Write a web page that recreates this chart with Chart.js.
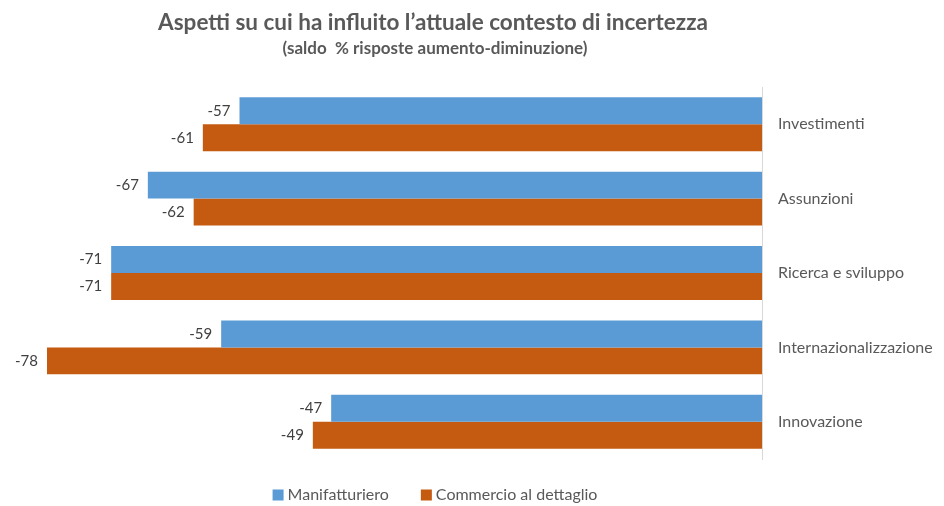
<!DOCTYPE html>
<html>
<head>
<meta charset="utf-8">
<script src="https://cdn.jsdelivr.net/npm/chart.js@4"></script>
<style>
  body { margin: 0; background: #fff; }
  canvas { display: block; }
</style>
</head>
<body>
<canvas id="myChart" width="944" height="506"></canvas>
<script>
const categories = ['Investimenti', 'Assunzioni', 'Ricerca e sviluppo', 'Internazionalizzazione', 'Innovazione'];
const manifatturiero = [-57, -67, -71, -59, -47];
const commercio = [-61, -62, -71, -78, -49];
const seriesNames = ['Manifatturiero', 'Commercio al dettaglio'];
const titleText = 'Aspetti su cui ha influito l\u2019attuale contesto di incertezza';
const subtitleText = '(saldo  % risposte aumento-diminuzione)';

// value labels at the end of each bar
const barLabels = {
  id: 'barLabels',
  afterDatasetsDraw(chart) {
    const ctx = chart.ctx;
    ctx.save();
    ctx.font = '15px Lato';
    ctx.fillStyle = '#404040';
    ctx.textAlign = 'right';
    ctx.textBaseline = 'middle';
    chart.data.datasets.forEach((ds, i) => {
      chart.getDatasetMeta(i).data.forEach((bar, j) => {
        ctx.fillText(ds.data[j], bar.x - 9, bar.y);
      });
    });
    ctx.restore();
  }
};

// title + legend, centred a bit left of the canvas centre like the original
const headerLegend = {
  id: 'headerLegend',
  afterDraw(chart) {
    const ctx = chart.ctx;
    const cx = 433;
    ctx.save();
    ctx.fillStyle = '#595959';
    ctx.textAlign = 'center';
    ctx.textBaseline = 'alphabetic';
    ctx.font = 'bold 22.5px Lato';
    ctx.fillText(titleText, cx, 30);
    ctx.font = 'bold 17px Lato';
    ctx.fillText(subtitleText, cx + 2, 54);

    // legend
    ctx.font = '16px Lato';
    ctx.textAlign = 'left';
    ctx.textBaseline = 'middle';
    const box = 11, gap = 4, itemGap = 32;
    const widths = chart.data.datasets.map(ds => box + gap + ctx.measureText(ds.label).width);
    const total = widths.reduce((a, b) => a + b, 0) + itemGap * (widths.length - 1);
    let x = 435 - total / 2;
    const y = 495;
    chart.data.datasets.forEach((ds, i) => {
      ctx.fillStyle = ds.backgroundColor;
      ctx.fillRect(x, y - box / 2, box, box);
      ctx.fillStyle = '#595959';
      ctx.fillText(ds.label, x + box + gap, y);
      x += widths[i] + itemGap;
    });
    ctx.restore();
  }
};

const ctx = document.getElementById('myChart').getContext('2d');
let myChart = new Chart(ctx, {
  type: 'bar',
  data: {
    labels: categories,
    datasets: [
      { label: seriesNames[0], data: manifatturiero, backgroundColor: '#5b9bd5' },
      { label: seriesNames[1], data: commercio, backgroundColor: '#c55a11' }
    ]
  },
  options: {
    indexAxis: 'y',
    responsive: false,
    devicePixelRatio: 1,
    animation: false,
    categoryPercentage: 0.725,
    barPercentage: 1,
    layout: { padding: { left: 47, right: 0, top: 87, bottom: 47 } },
    scales: {
      x: { display: false, min: -78, max: 0 },
      y: {
        position: 'right',
        grid: { display: false },
        border: { display: true, color: '#d9d9d9', width: 1 },
        ticks: { color: '#595959', font: { family: 'Lato', size: 16 }, padding: 8 },
        afterFit(scale) { scale.width = 182; }
      }
    },
    plugins: {
      legend: { display: false },
      tooltip: { enabled: false }
    }
  },
  plugins: [barLabels, headerLegend]
});
</script>
</body>
</html>
